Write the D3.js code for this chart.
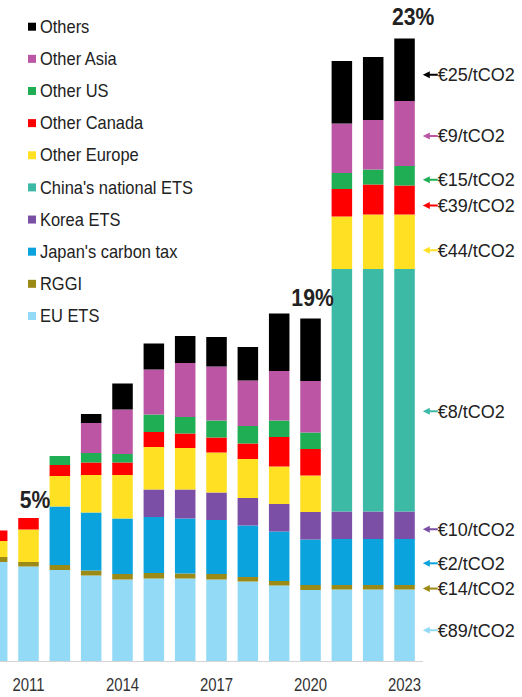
<!DOCTYPE html>
<html>
<head>
<meta charset="utf-8">
<script src="https://cdn.jsdelivr.net/npm/d3@7"></script>
<style>
  html, body { margin: 0; padding: 0; background: #fff; }
  svg { display: block; font-family: "Liberation Sans", Arial, sans-serif; }
</style>
</head>
<body>
<svg id="chart" width="522" height="697"></svg>
<script>
// ---- data (GtCO2-equivalent) ----
const years = [2010, 2011, 2012, 2013, 2014, 2015, 2016, 2017, 2018, 2019, 2020, 2021, 2022, 2023];
const tickYears = [2011, 2014, 2017, 2020, 2023];

const euEts       = [1.98, 1.89, 1.82, 1.71, 1.63, 1.65, 1.65, 1.63, 1.59, 1.51, 1.42, 1.43, 1.43, 1.43];
const rggi        = [0.10, 0.09, 0.10, 0.10, 0.11, 0.11, 0.10, 0.11, 0.09, 0.09, 0.10, 0.09, 0.09, 0.09];
const japanTax    = [0, 0, 1.17, 1.16, 1.11, 1.12, 1.10, 1.08, 1.03, 0.99, 0.91, 0.92, 0.92, 0.92];
const koreaEts    = [0, 0, 0, 0, 0, 0.55, 0.58, 0.55, 0.55, 0.55, 0.55, 0.55, 0.55, 0.55];
const chinaEts    = [0, 0, 0, 0, 0, 0, 0, 0, 0, 0, 0, 4.85, 4.85, 4.85];
const otherEurope = [0.32, 0.65, 0.61, 0.75, 0.87, 0.85, 0.83, 0.80, 0.78, 0.75, 0.73, 1.05, 1.09, 1.09];
const otherCanada = [0.21, 0.23, 0.22, 0.25, 0.25, 0.30, 0.29, 0.30, 0.31, 0.59, 0.53, 0.55, 0.60, 0.58];
const otherUS     = [0, 0, 0.18, 0.19, 0.17, 0.35, 0.33, 0.34, 0.35, 0.33, 0.33, 0.32, 0.30, 0.39];
const otherAsia   = [0, 0, 0, 0.60, 0.89, 0.90, 1.08, 1.08, 0.91, 0.99, 1.03, 0.99, 0.99, 1.30];
const others      = [0, 0, 0, 0.18, 0.52, 0.52, 0.54, 0.59, 0.67, 1.15, 1.25, 1.25, 1.26, 1.25];

// stack order bottom -> top
const seriesNames  = ["EU ETS", "RGGI", "Japan's carbon tax", "Korea ETS", "China's national ETS",
                      "Other Europe", "Other Canada", "Other US", "Other Asia", "Others"];
const seriesValues = [euEts, rggi, japanTax, koreaEts, chinaEts, otherEurope, otherCanada, otherUS, otherAsia, others];
const seriesColors = ["#92daf5", "#9c8a16", "#0aa3de", "#7b4fa6", "#3dbaa6",
                      "#ffe022", "#ff0000", "#1fae54", "#bc55a4", "#000000"];
const priceLabels  = ["€89/tCO2", "€14/tCO2", "€2/tCO2", "€10/tCO2", "€8/tCO2",
                      "€44/tCO2", "€39/tCO2", "€15/tCO2", "€9/tCO2", "€25/tCO2"];

const shareYears  = [2011, 2020, 2023];
const shareLabels = ["5%", "19%", "23%"];

// ---- build table ----
const table = years.map((yr, i) => {
  const row = { year: yr };
  seriesNames.forEach((n, s) => row[n] = seriesValues[s][i]);
  return row;
});
const stacked = d3.stack().keys(seriesNames)(table);

// ---- scales ----
const svg = d3.select("#chart");
const baseY = 661;
const x = d3.scaleBand().domain(years).range([-18.5, 420.2]).paddingInner(0.345).paddingOuter(0.1725);
const y = d3.scaleLinear().domain([0, 13.22]).range([baseY, 0]);
const color = d3.scaleOrdinal().domain(seriesNames).range(seriesColors);

// ---- bars ----
svg.append("g").selectAll("g")
  .data(stacked)
  .join("g")
  .attr("fill", d => color(d.key))
  .selectAll("rect")
  .data(d => d.filter(p => p[1] - p[0] > 0))
  .join("rect")
  .attr("x", d => x(d.data.year))
  .attr("width", x.bandwidth())
  .attr("y", d => y(d[1]))
  .attr("height", d => y(d[0]) - y(d[1]));

// ---- x axis ----
const axis = svg.append("g")
  .attr("transform", `translate(0,${baseY + 0.5})`)
  .call(d3.axisBottom(x).tickValues(tickYears).tickSize(0).tickPadding(0));
axis.select(".domain").attr("stroke", "#d4d4d4").attr("d", `M0,0H423`);
axis.selectAll(".tick text")
  .attr("y", 30)
  .attr("dy", 0)
  .attr("fill", "#333")
  .attr("font-size", 18)
  .attr("font-family", "'Liberation Sans', Arial, sans-serif")
  .attr("transform", "scale(0.83,1)");

// ---- share labels ----
const shareDx = [6.5, 2, 8.5];
const shareDy = [-10, -12.5, -13.5];
shareYears.forEach((yr, i) => {
  const idx = years.indexOf(yr);
  const top = d3.sum(seriesValues, s => s[idx]);
  const cx = x(yr) + x.bandwidth() / 2 + shareDx[i];
  svg.append("text")
    .attr("transform", `translate(${cx},${y(top) + shareDy[i]}) scale(0.92,1)`)
    .attr("text-anchor", "middle")
    .attr("font-size", 23)
    .attr("font-weight", "bold")
    .attr("fill", "#222")
    .text(shareLabels[i]);
});

// ---- price annotations with arrows (at the 2023 bar) ----
const lastIdx = years.length - 1;
const lastStack = stacked.map(s => s[lastIdx]);
const labelNudge = [5, 1.3, 1.3, 4, 21, 8.5, 5.5, 4, 2.5, 5];
const ann = svg.append("g");
lastStack.forEach((seg, s) => {
  const cy = y((seg[0] + seg[1]) / 2) + labelNudge[s];
  const c = color(seriesNames[s]);
  const x0 = x(2023) + x.bandwidth() + 8;
  ann.append("line")
    .attr("x1", x0 + 5).attr("x2", x0 + 15)
    .attr("y1", cy).attr("y2", cy)
    .attr("stroke", c).attr("stroke-width", 2);
  ann.append("path")
    .attr("d", `M${x0},${cy}L${x0 + 7},${cy - 3.5}L${x0 + 7},${cy + 3.5}Z`)
    .attr("fill", c);
  ann.append("text")
    .attr("x", x0 + 15)
    .attr("y", cy)
    .attr("dy", "0.35em")
    .attr("font-size", 18)
    .attr("fill", "#222")
    .text(priceLabels[s]);
});

// ---- legend (top -> bottom is reverse of stack order) ----
const legendItems = seriesNames.slice().reverse();
const leg = svg.append("g");
legendItems.forEach((n, i) => {
  const cy = 26.7 + i * 32.14;
  leg.append("rect")
    .attr("x", 28).attr("y", cy - 4).attr("width", 8).attr("height", 8)
    .attr("fill", color(n));
  leg.append("text")
    .attr("transform", `translate(40,${cy}) scale(0.94,1)`)
    .attr("dy", "0.35em")
    .attr("font-size", 17.5)
    .attr("fill", "#222")
    .text(n);
});
</script>
</body>
</html>
